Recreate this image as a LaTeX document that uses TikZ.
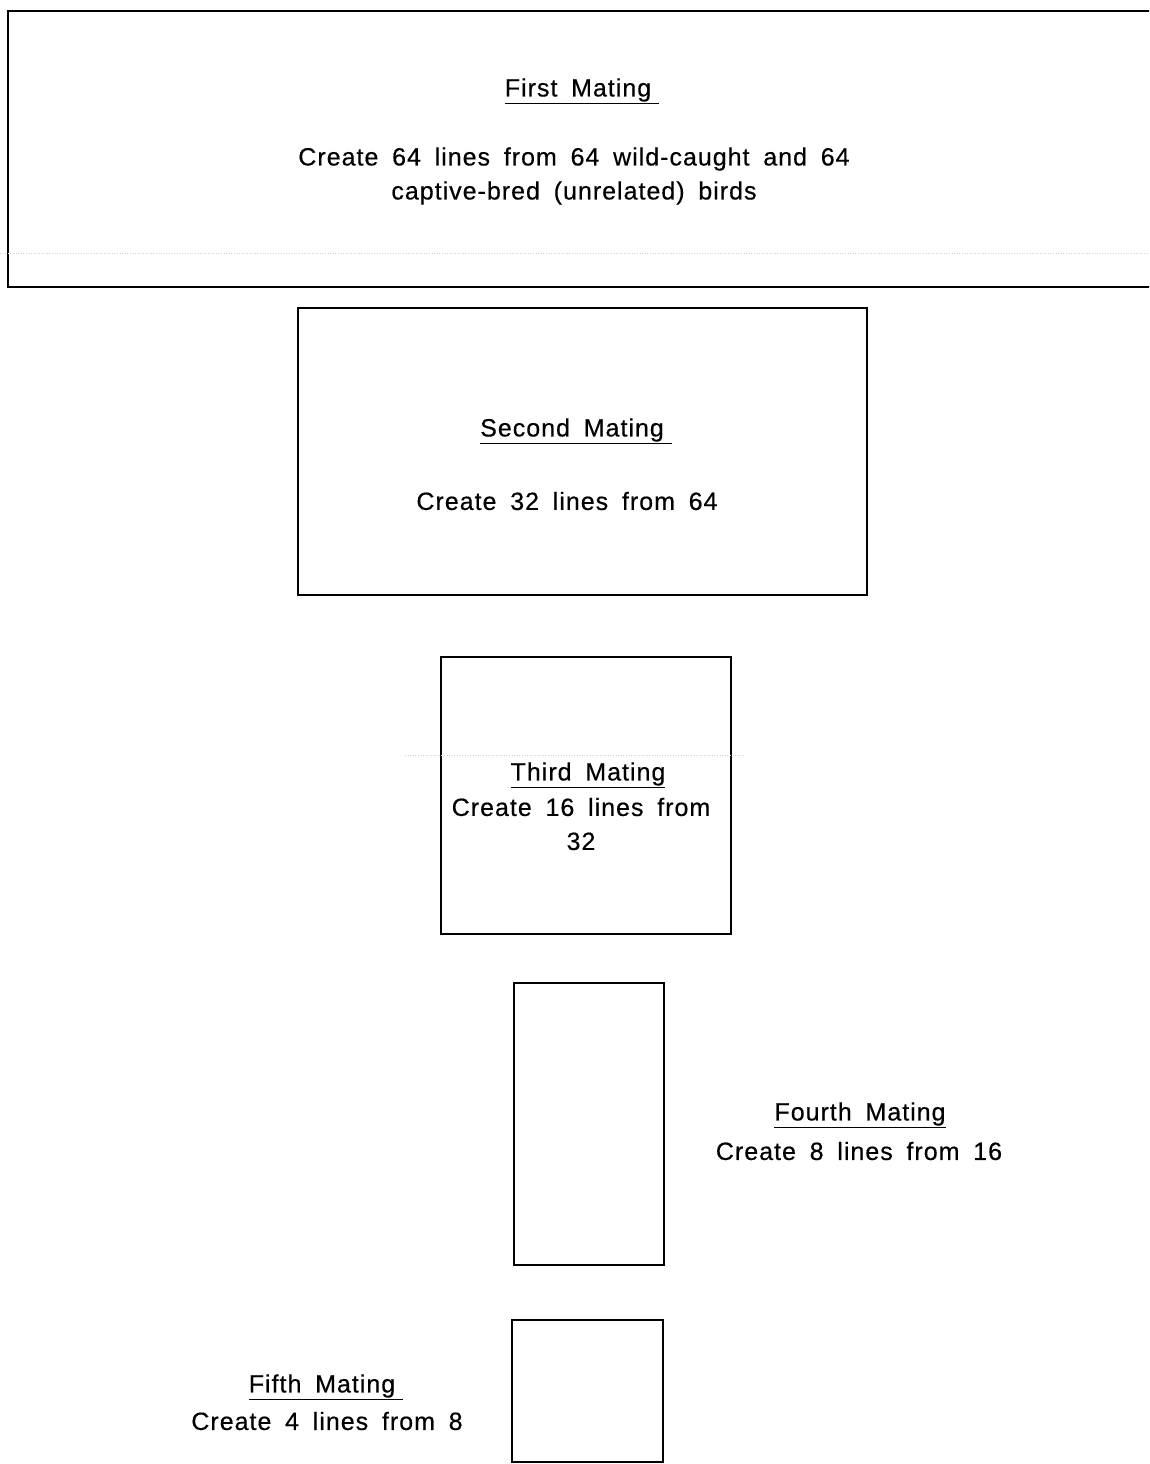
\documentclass[tikz,border=0pt]{standalone}
\usepackage{fontspec}
\setmainfont{Liberation Sans}
\newfontfamily\lblfam[LetterSpace=4,FakeBold=0.4]{Liberation Sans}
\newcommand\lblfont{\lblfam\fontsize{25}{34}\selectfont\spaceskip=0.55em plus 0.1em\relax}
\newcommand\ul[1]{\underline{#1}}
\begin{document}
\begin{tikzpicture}[x=1pt,y=-1pt,
  box/.style={draw=black,line width=1.6pt,rectangle,inner sep=0pt},
  lbl/.style={font=\lblfont,align=center,inner sep=0pt,anchor=center},
  faint/.style={draw=gray!35,dotted,line width=0.6pt}]
\useasboundingbox (0,0) rectangle (1149,1464);
\clip (0,0) rectangle (1149,1464);
\fill[white] (0,0) rectangle (1149,1464);
% boxes
\node[box,minimum width=1180pt,minimum height=276pt,anchor=north west] (b1) at (7,10) {};
\node[box,minimum width=569pt,minimum height=287pt,anchor=north west] (b2) at (297,307) {};
\node[box,minimum width=290pt,minimum height=277pt,anchor=north west] (b3) at (440,656) {};
\node[box,minimum width=150pt,minimum height=282pt,anchor=north west] (b4) at (513,982) {};
\node[box,minimum width=151pt,minimum height=142pt,anchor=north west] (b5) at (511,1319) {};
% faint scan lines
\coordinate (f1a) at (0,253);
\coordinate (f1b) at (1149,253);
\draw[faint] (f1a) -- (f1b);
\coordinate (f3a) at (405,755);
\coordinate (f3b) at (745,755);
\draw[faint] (f3a) -- (f3b);
% texts
\node[lbl] (t1h) at (582,91) {\ul{First Mating\hspace*{8pt}}};
\node[lbl] (t1) at (574,176) {Create 64 lines from 64 wild-caught and 64\\captive-bred (unrelated) birds};
\node[lbl] (t2h) at (576,431) {\ul{Second Mating\hspace*{8pt}}};
\node[lbl] (t2) at (567,501) {Create 32 lines from 64};
\node[lbl] (t3h) at (588,775) {\ul{Third Mating}};
\node[lbl] (t3) at (581,824) {Create 16 lines from\\32};
\node[lbl] (t4h) at (860,1115) {\ul{Fourth Mating}};
\node[lbl] (t4) at (859,1151) {Create 8 lines from 16};
\node[lbl] (t5h) at (326,1387) {\ul{Fifth Mating\hspace*{8pt}}};
\node[lbl] (t5) at (327,1421) {Create 4 lines from 8};
\end{tikzpicture}
\end{document}
